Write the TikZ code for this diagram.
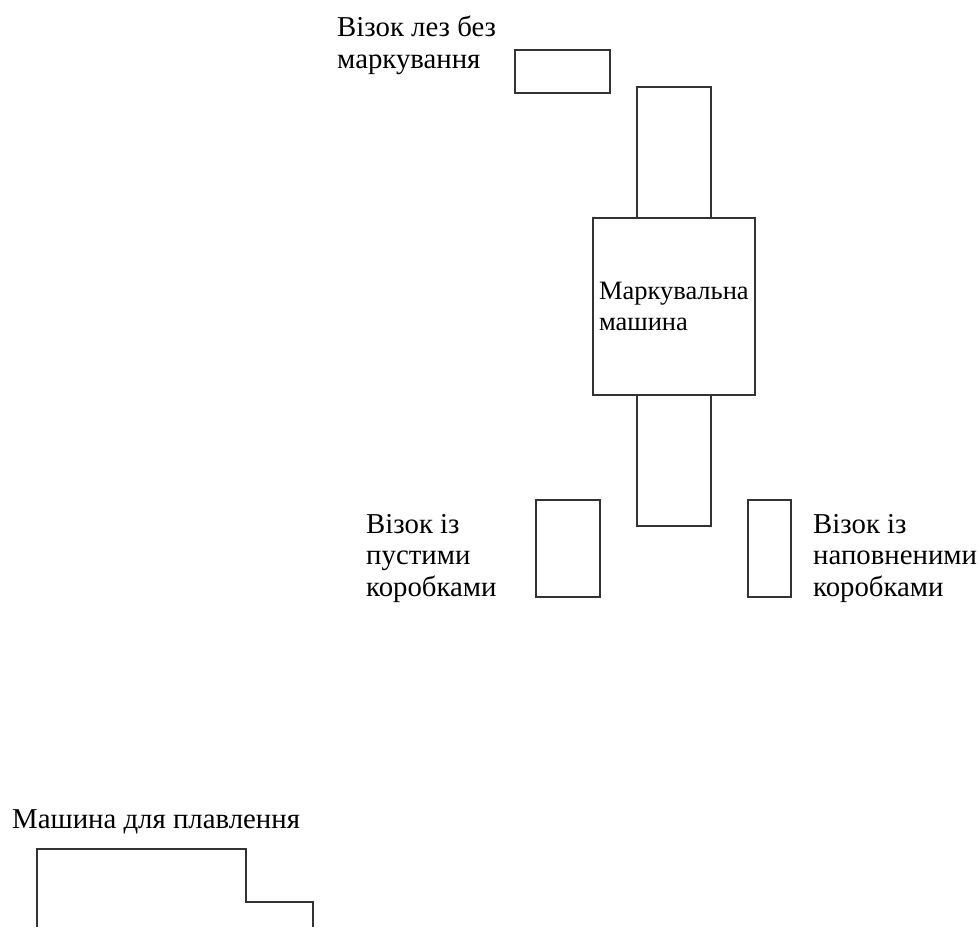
\documentclass[tikz,border=0pt]{standalone}
\usepackage{fontspec}
\setmainfont{Liberation Serif}
\usetikzlibrary{positioning}

\tikzset{
		unit/.style     = {shape=rectangle, draw=black!80, line width=1.2pt,
				inner sep=0pt, outer sep=0pt},
		cart/.style     = {unit},
		chute/.style    = {unit, minimum width=74pt, minimum height=131pt},
		machine/.style  = {unit, align=left, inner sep=6pt,
				font=\fontsize{26.5}{31}\selectfont},
		caption/.style  = {anchor=north west, align=left, inner sep=0pt,
				font=\fontsize{28.8}{31.5}\selectfont}
	}

\begin{document}
\begin{tikzpicture}[x=1pt, y=-1pt]
		\useasboundingbox (0,0) rectangle (980,927);
		% main line
		\node [machine, minimum width=162pt, minimum height=177pt, text width=150pt]
			(marker) at (674,306.5) {Маркувальна\\машина};
		\node [chute, above=0pt of marker] (chuteTop) {};
		\node [chute, below=0pt of marker] (chuteBottom) {};
		% carts
		\node [cart, minimum width=95pt, minimum height=43pt] (cartBlank) at (562.5,71.5) {};
		\node [cart, minimum width=64pt, minimum height=97pt] (cartEmpty) at (568,548.5) {};
		\node [cart, minimum width=43pt, minimum height=97pt] (cartFull) at (769.5,548.5) {};
		\node [caption] (lblBlank) at (337,16) {Візок лез без\\маркування};
		\node [caption] (lblEmpty) at (366,514) {Візок із\\пустими\\коробками};
		\node [caption] (lblFull) at (813,514) {Візок із\\наповненими\\коробками};
		% melting machine
		\node [caption] (lblMelter) at (12,809) {Машина для плавлення};
		\draw [black!80, line width=1.2pt] (37,927) |- (246,849) coordinate (melterStep) |- (313,902) -- (313,927);
	\end{tikzpicture}
\end{document}
